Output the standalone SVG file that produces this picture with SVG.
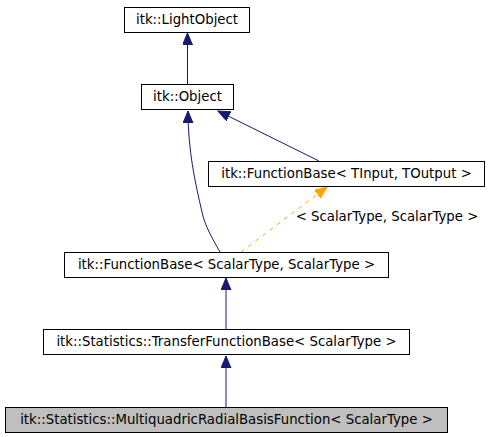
<svg xmlns="http://www.w3.org/2000/svg" width="488" height="437" viewBox="0 0 488 437">
<style>
.box{fill:#ffffff;stroke:#000000;stroke-width:1}
.sel{fill:#bfbfbf;stroke:#000000;stroke-width:1}
text{font-family:"DejaVu Sans",sans-serif;font-size:13.3px;fill:#000000;text-anchor:middle}
.e{fill:none;stroke:#191970;stroke-width:1}
.t{fill:none;stroke:#ffa500;stroke-width:1;stroke-dasharray:4,5}
</style>
<defs>
<marker id="ah" markerUnits="userSpaceOnUse" markerWidth="13" markerHeight="11" refX="12" refY="5" orient="auto">
<path d="M0,0 L12,5 L0,10 z" fill="#191970" stroke="#191970"/>
</marker>
<marker id="ao" markerUnits="userSpaceOnUse" markerWidth="13" markerHeight="11" refX="12" refY="5" orient="auto">
<path d="M0,0 L12,5 L0,10 z" fill="#ffa500" stroke="#ffa500"/>
</marker>
</defs>
<g id="edges">
<path class="e" d="M187.5,84 L187.5,33" marker-end="url(#ah)"/>
<path class="e" d="M319,161 L218,111" marker-end="url(#ah)"/>
<path class="e" d="M220,252 C212,238 205,226 202,212 C195,182 188,150 188,111" marker-end="url(#ah)"/>
<path class="t" d="M241,252 L327,187" marker-end="url(#ao)"/>
<text x="387" y="221">&lt; ScalarType, ScalarType &gt;</text>
<path class="e" d="M226,329 L226,278" marker-end="url(#ah)"/>
<path class="e" d="M226,407 L226,356" marker-end="url(#ah)"/>
</g>
<g id="n_lightobject">
<rect class="box" x="124.5" y="7.5" width="125" height="25"/>
<text x="187" y="24">itk::LightObject</text>
</g>
<g id="n_object">
<rect class="box" x="141.5" y="84.5" width="92" height="25"/>
<text x="187.5" y="101">itk::Object</text>
</g>
<g id="n_functionbase_tt">
<rect class="box" x="208.5" y="161.5" width="276" height="25"/>
<text x="346.5" y="178">itk::FunctionBase&lt; TInput, TOutput &gt;</text>
</g>
<g id="n_functionbase_ss">
<rect class="box" x="64.5" y="252.5" width="324" height="25"/>
<text x="226.5" y="269">itk::FunctionBase&lt; ScalarType, ScalarType &gt;</text>
</g>
<g id="n_transfer">
<rect class="box" x="43.5" y="329.5" width="366" height="25"/>
<text x="226.5" y="346">itk::Statistics::TransferFunctionBase&lt; ScalarType &gt;</text>
</g>
<g id="n_multiquadric">
<rect class="sel" x="5.5" y="407.5" width="442" height="25"/>
<text x="226.5" y="424">itk::Statistics::MultiquadricRadialBasisFunction&lt; ScalarType &gt;</text>
</g>
</svg>
